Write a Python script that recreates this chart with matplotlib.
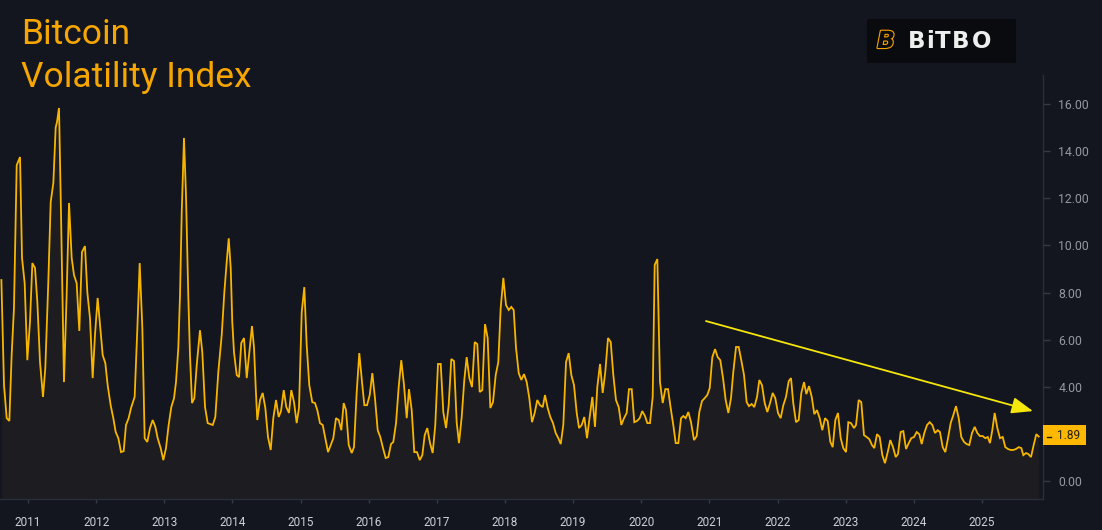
import matplotlib
matplotlib.use('Agg')
import matplotlib.pyplot as plt
import matplotlib.patheffects as pe
from matplotlib.patches import Rectangle
import numpy as np

# decimal year of each reading and the index value
t = [
    2010.609, 2010.648, 2010.687, 2010.726, 2010.760, 2010.794, 2010.834, 2010.883, 2010.912, 2010.951,
    2010.990, 2011.029, 2011.064, 2011.103, 2011.137, 2011.176, 2011.220, 2011.254, 2011.298, 2011.333,
    2011.372, 2011.406, 2011.426, 2011.455, 2011.484, 2011.528, 2011.567, 2011.602, 2011.641, 2011.675,
    2011.714, 2011.753, 2011.792, 2011.836, 2011.871, 2011.910, 2011.949, 2011.983, 2012.022, 2012.057,
    2012.096, 2012.135, 2012.169, 2012.213, 2012.252, 2012.287, 2012.326, 2012.365, 2012.404, 2012.438,
    2012.477, 2012.512, 2012.565, 2012.605, 2012.639, 2012.678, 2012.712, 2012.751, 2012.790, 2012.830,
    2012.869, 2012.903, 2012.947, 2012.986, 2013.025, 2013.064, 2013.103, 2013.143, 2013.172, 2013.206,
    2013.231, 2013.256, 2013.289, 2013.319, 2013.352, 2013.377, 2013.407, 2013.441, 2013.476, 2013.524,
    2013.558, 2013.598, 2013.637, 2013.711, 2013.749, 2013.793, 2013.843, 2013.881, 2013.916, 2013.946,
    2013.975, 2013.998, 2014.023, 2014.063, 2014.097, 2014.130, 2014.170, 2014.210, 2014.248, 2014.287,
    2014.317, 2014.342, 2014.365, 2014.405, 2014.444, 2014.483, 2014.522, 2014.562, 2014.600, 2014.640,
    2014.679, 2014.713, 2014.753, 2014.791, 2014.830, 2014.864, 2014.904, 2014.943, 2014.977, 2015.017,
    2015.055, 2015.090, 2015.128, 2015.172, 2015.212, 2015.246, 2015.285, 2015.325, 2015.363, 2015.403,
    2015.442, 2015.481, 2015.520, 2015.560, 2015.598, 2015.633, 2015.667, 2015.707, 2015.751, 2015.784,
    2015.824, 2015.862, 2015.902, 2015.936, 2015.975, 2016.015, 2016.053, 2016.092, 2016.132, 2016.170,
    2016.210, 2016.249, 2016.288, 2016.327, 2016.361, 2016.401, 2016.440, 2016.478, 2016.518, 2016.558,
    2016.591, 2016.631, 2016.669, 2016.709, 2016.749, 2016.787, 2016.822, 2016.860, 2016.900, 2016.939,
    2016.977, 2017.017, 2017.057, 2017.095, 2017.135, 2017.174, 2017.212, 2017.252, 2017.291, 2017.325,
    2017.365, 2017.403, 2017.438, 2017.477, 2017.516, 2017.556, 2017.594, 2017.629, 2017.667, 2017.707,
    2017.746, 2017.785, 2017.824, 2017.864, 2017.902, 2017.937, 2017.976, 2018.015, 2018.055, 2018.093,
    2018.128, 2018.162, 2018.202, 2018.240, 2018.279, 2018.319, 2018.357, 2018.397, 2018.436, 2018.474,
    2018.514, 2018.554, 2018.587, 2018.627, 2018.665, 2018.705, 2018.744, 2018.783, 2018.818, 2018.856,
    2018.896, 2018.935, 2018.974, 2019.013, 2019.053, 2019.087, 2019.126, 2019.164, 2019.204, 2019.243,
    2019.282, 2019.321, 2019.355, 2019.395, 2019.434, 2019.472, 2019.512, 2019.552, 2019.590, 2019.629,
    2019.669, 2019.707, 2019.747, 2019.786, 2019.820, 2019.860, 2019.898, 2019.938, 2019.977, 2020.015,
    2020.055, 2020.089, 2020.128, 2020.168, 2020.197, 2020.236, 2020.275, 2020.315, 2020.353, 2020.393,
    2020.432, 2020.470, 2020.506, 2020.544, 2020.584, 2020.617, 2020.652, 2020.691, 2020.730, 2020.774,
    2020.814, 2020.852, 2020.892, 2020.931, 2020.969, 2021.005, 2021.043, 2021.083, 2021.122, 2021.160,
    2021.200, 2021.239, 2021.278, 2021.317, 2021.351, 2021.391, 2021.430, 2021.468, 2021.508, 2021.547,
    2021.581, 2021.621, 2021.659, 2021.699, 2021.733, 2021.772, 2021.812, 2021.850, 2021.890, 2021.929,
    2021.967, 2022.007, 2022.046, 2022.085, 2022.124, 2022.164, 2022.198, 2022.231, 2022.271, 2022.311,
    2022.349, 2022.389, 2022.423, 2022.462, 2022.502, 2022.540, 2022.579, 2022.619, 2022.657, 2022.697,
    2022.736, 2022.775, 2022.810, 2022.848, 2022.887, 2022.927, 2022.965, 2023.005, 2023.039, 2023.078,
    2023.122, 2023.152, 2023.191, 2023.229, 2023.269, 2023.308, 2023.347, 2023.386, 2023.420, 2023.460,
    2023.499, 2023.538, 2023.577, 2023.617, 2023.655, 2023.695, 2023.734, 2023.768, 2023.807, 2023.846,
    2023.886, 2023.925, 2023.963, 2024.003, 2024.042, 2024.081, 2024.116, 2024.154, 2024.194, 2024.233,
    2024.272, 2024.311, 2024.351, 2024.384, 2024.424, 2024.462, 2024.502, 2024.541, 2024.580, 2024.619,
    2024.659, 2024.697, 2024.737, 2024.776, 2024.814, 2024.854, 2024.894, 2024.932, 2024.971, 2025.011,
    2025.049, 2025.085, 2025.118, 2025.152, 2025.187, 2025.226, 2025.265, 2025.305, 2025.343, 2025.383,
    2025.422, 2025.460, 2025.500, 2025.539, 2025.578, 2025.607, 2025.647, 2025.680, 2025.720, 2025.759,
    2025.798, 2025.833,
]

vol = [
    8.53, 4.07, 2.67, 2.55, 5.35, 7.34, 13.40, 13.75, 9.47, 8.40,
    5.13, 6.75, 9.25, 9.04, 7.60, 5.05, 3.57, 4.80, 8.45, 11.84,
    12.65, 15.00, 15.24, 15.83, 11.40, 4.20, 7.90, 11.80, 9.47, 8.74,
    8.40, 6.37, 9.72, 9.97, 8.00, 6.90, 4.37, 6.20, 7.77, 6.60,
    5.35, 5.00, 4.07, 3.22, 2.67, 2.08, 1.82, 1.23, 1.27, 2.38,
    2.67, 3.10, 3.57, 6.50, 9.25, 6.50, 1.82, 1.66, 2.25, 2.59,
    2.30, 1.82, 1.40, 0.89, 1.40, 2.38, 3.14, 3.52, 4.20, 5.65,
    7.90, 11.40, 14.56, 12.10, 7.90, 5.35, 3.31, 3.52, 4.92, 6.40,
    5.47, 3.14, 2.46, 2.38, 2.72, 4.63, 6.20, 8.00, 9.30, 10.30,
    9.04, 6.75, 5.47, 4.50, 4.41, 5.86, 6.07, 4.37, 5.47, 6.58,
    5.65, 3.95, 2.59, 3.44, 3.74, 3.10, 1.87, 1.32, 2.67, 3.44,
    2.72, 2.97, 3.86, 3.14, 2.89, 3.86, 3.35, 2.46, 3.10, 7.17,
    8.23, 5.77, 4.07, 3.35, 3.31, 3.01, 2.46, 2.38, 1.82, 1.23,
    1.53, 1.82, 2.67, 2.59, 2.16, 3.31, 3.01, 1.53, 1.19, 1.44,
    3.78, 5.43, 4.20, 3.22, 3.22, 3.65, 4.58, 3.52, 2.16, 1.87,
    1.40, 0.98, 1.02, 1.57, 1.66, 2.46, 3.99, 5.13, 4.07, 2.67,
    3.90, 3.01, 1.23, 1.23, 0.89, 1.10, 1.95, 2.25, 1.61, 1.19,
    2.38, 4.97, 4.97, 2.93, 2.25, 3.22, 5.18, 5.09, 2.50, 1.61,
    2.72, 4.29, 5.26, 4.37, 3.99, 5.90, 5.81, 3.78, 3.86, 6.66,
    6.07, 3.10, 3.35, 4.50, 5.05, 7.34, 8.62, 7.47, 7.26, 7.39,
    7.26, 5.65, 4.58, 4.29, 4.54, 4.20, 3.52, 2.50, 2.89, 3.44,
    3.22, 3.14, 3.65, 3.10, 2.72, 2.46, 2.04, 1.82, 1.57, 2.38,
    5.05, 5.43, 4.50, 4.07, 2.89, 2.25, 2.38, 2.72, 1.82, 2.72,
    3.57, 2.30, 3.99, 4.97, 3.74, 4.63, 6.07, 5.90, 4.50, 3.44,
    3.14, 2.38, 2.67, 2.89, 3.90, 3.90, 2.50, 2.55, 2.67, 2.97,
    2.76, 2.46, 2.46, 3.57, 9.17, 9.42, 4.20, 3.31, 3.90, 3.90,
    3.10, 2.38, 1.61, 1.61, 2.67, 2.76, 2.67, 2.93, 2.50, 1.74,
    1.91, 2.93, 3.40, 3.52, 3.65, 3.95, 5.26, 5.60, 5.26, 5.13,
    4.37, 3.44, 2.89, 3.52, 4.63, 5.69, 5.69, 5.13, 4.50, 3.35,
    3.18, 3.27, 3.14, 3.57, 4.29, 4.07, 3.31, 2.93, 3.31, 3.74,
    3.52, 2.89, 2.67, 3.22, 3.57, 4.24, 4.37, 3.31, 2.50, 2.59,
    3.74, 4.20, 3.69, 4.03, 3.57, 2.84, 3.01, 2.67, 2.16, 2.67,
    2.55, 1.66, 1.44, 2.59, 2.89, 1.82, 1.40, 1.23, 2.50, 2.46,
    2.25, 2.38, 3.44, 3.35, 1.95, 1.87, 1.78, 1.53, 1.40, 1.99,
    1.87, 1.10, 0.76, 1.23, 1.74, 1.44, 1.02, 1.15, 2.08, 2.12,
    1.36, 1.61, 1.82, 1.87, 2.08, 1.99, 1.57, 2.04, 2.38, 2.50,
    2.38, 2.04, 2.16, 2.08, 1.44, 1.23, 1.82, 2.46, 2.80, 3.18,
    2.67, 1.87, 1.66, 1.57, 1.53, 2.04, 2.30, 2.04, 1.91, 1.91,
    1.82, 1.87, 1.61, 2.16, 2.89, 2.25, 1.82, 1.87, 1.44, 1.36,
    1.32, 1.32, 1.36, 1.44, 1.40, 1.10, 1.19, 1.15, 1.02, 1.53,
    1.99, 1.89,
]

years = list(range(2011, 2026))
yticks = [0, 2, 4, 6, 8, 10, 12, 14, 16]
trend_start = (2020.950, 6.79)
trend_end = (2025.749, 2.97)
last_value = vol[-1]

BG = '#13161f'
LINE = '#f7b500'
FILL = '#1c1c21'
SPINE = '#2b2f3a'

fig = plt.figure(figsize=(11.02, 5.30), dpi=100, facecolor=BG)
ax = fig.add_axes([0.0, 1 - 499 / 530, 1043 / 1102, (499 - 75) / 530])
ax.set_facecolor(BG)

ymin, ymax = -0.76, 17.23
ax.fill_between(t, vol, ymin, color=FILL, lw=0, zorder=1)
ax.plot(t, vol, color=LINE, lw=1.3, zorder=2, solid_joinstyle='miter')

ax.set_xlim(2010.589, 2025.896)
ax.set_ylim(ymin, ymax)

ax.yaxis.tick_right()
ax.set_yticks(yticks)
ax.set_yticklabels([f'{v:.2f}' for v in yticks])
ax.set_xticks(years)
ax.set_xticklabels([str(y) for y in years])
ax.tick_params(axis='y', length=5, width=1, color='#363a45', labelcolor='#9598a1',
               labelsize=8.8, pad=6)
ax.tick_params(axis='x', length=3, width=1, color='#363a45', labelcolor='#cdd0d6',
               labelsize=8.5, pad=9)
for lbl in ax.get_xticklabels() + ax.get_yticklabels():
    lbl.set_fontfamily('Roboto')

for s in ['left', 'top']:
    ax.spines[s].set_visible(False)
for s in ['right', 'bottom']:
    ax.spines[s].set_color(SPINE)
    ax.spines[s].set_linewidth(1)

# trend arrow
ax.annotate('', xy=trend_end, xytext=trend_start,
            arrowprops=dict(arrowstyle='-|>,head_length=0.65,head_width=0.25',
                            color='#f5e60c', lw=1.3, mutation_scale=20,
                            shrinkA=0, shrinkB=0), zorder=4)

# last value tag on the axis
ytr = ax.get_yaxis_transform()
box_h = 20 / 23.56
ax.add_patch(Rectangle((1.0, last_value - box_h / 2 + 0.05), 43 / 1043, box_h,
                       transform=ytr, facecolor='#ffb800', edgecolor='none',
                       clip_on=False, zorder=5))
ax.plot([1.0 + 4 / 1043, 1.0 + 8 / 1043], [last_value, last_value], transform=ytr,
        color='#1a1a1a', lw=1, clip_on=False, zorder=6)
ax.text(1.0 + 14 / 1043, last_value + 0.05, f'{last_value:.2f}', transform=ytr,
        ha='left', va='center', fontsize=8.5, color='#1e1e1e', family='Roboto',
        zorder=6, clip_on=False)

# title
fig.text(21 / 1102, 1 - 44 / 530, 'Bitcoin', color='#f7a600', fontsize=25.5,
         family='Roboto', va='baseline', ha='left')
fig.text(21 / 1102, 1 - 87 / 530, 'Volatility Index', color='#f7a600', fontsize=25.5,
         family='Roboto', va='baseline', ha='left')

# logo
fig.patches.append(Rectangle((867 / 1102, 1 - 63 / 530), 149 / 1102, 44 / 530,
                             transform=fig.transFigure, facecolor='#0a0b0e',
                             edgecolor='none', zorder=3))
fig.text(886 / 1102, 1 - 41 / 530, 'B', color='#0a0b0e', fontsize=17, family='DejaVu Sans',
         fontweight='bold', ha='center', va='center', style='italic', zorder=4,
         path_effects=[pe.withStroke(linewidth=1.6, foreground='#f7a400')])
logo_letters = ['B', 'i', 'T', 'B', 'O']
logo_left = [908, 926, 935, 952, 972]
for ch, lx in zip(logo_letters, logo_left):
    fig.text(lx / 1102, 1 - 41 / 530, ch, color='#eeeeee', fontsize=16.5,
             family='DejaVu Sans', fontweight='bold', ha='left', va='center', zorder=4)

fig.savefig('out.png', dpi=100, facecolor=BG)
